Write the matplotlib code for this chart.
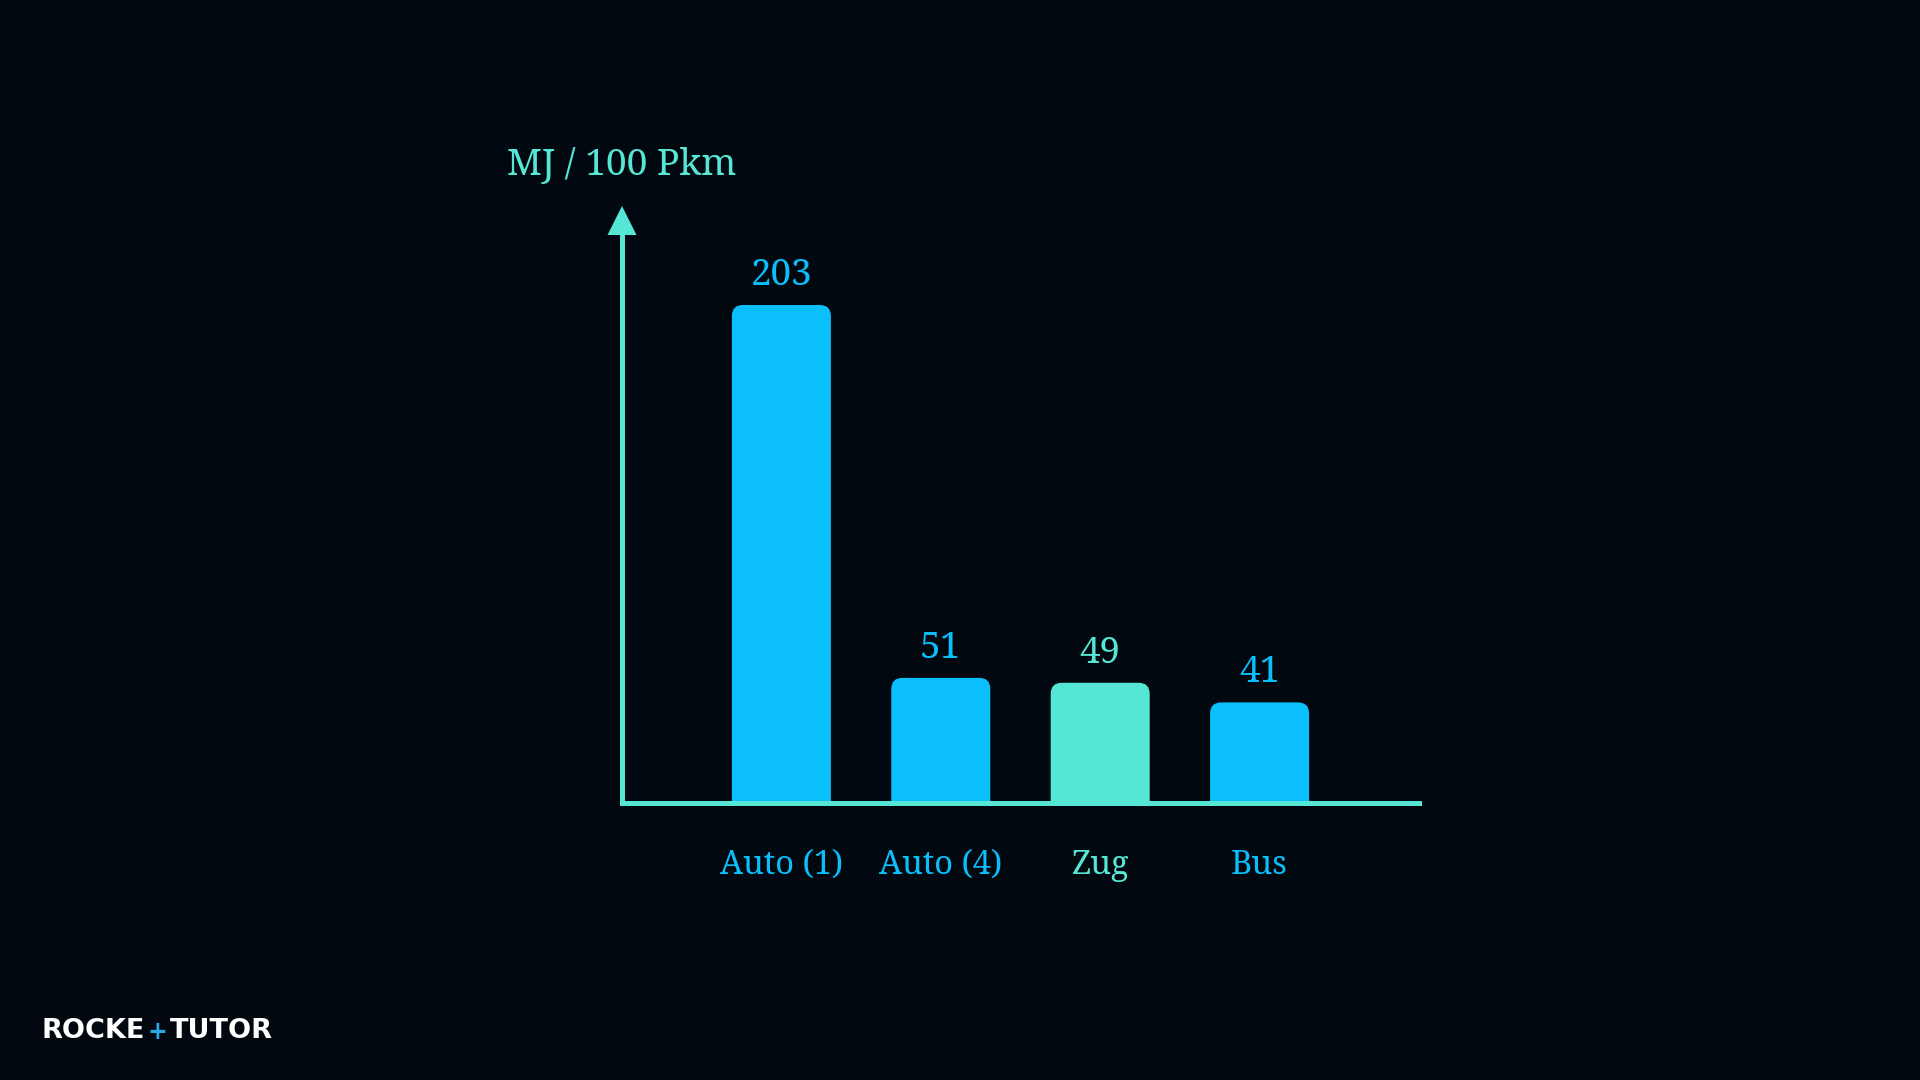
import matplotlib.pyplot as plt
from matplotlib.patches import FancyBboxPatch, Polygon

categories = ["Auto (1)", "Auto (4)", "Zug", "Bus"]
values = [203, 51, 49, 41]
highlight = [False, False, True, False]
y_label = "MJ / 100 Pkm"

bg = "#02080f"
blue = "#0bbffd"
teal = "#56e6d6"
serif = ["Noto Serif", "DejaVu Serif"]

W, H = 1920, 1080
fig = plt.figure(figsize=(19.2, 10.8), dpi=100, facecolor=bg)

# axes box in pixels (from top-left of image)
left_px, right_px = 622, 1419
base_px, top_px = 803, 206
ax = fig.add_axes([left_px / W, 1 - base_px / H,
                   (right_px - left_px) / W, (base_px - top_px) / H])
ax.set_facecolor(bg)

px_per_y = 498 / 203.0
ymax = (base_px - top_px) / px_per_y
ax.set_xlim(-1, 4)
ax.set_ylim(0, ymax)
px_per_x = (right_px - left_px) / 5.0

bar_w = 99 / px_per_x
r = 11 / px_per_x
aspect = px_per_x / px_per_y

for i, (v, hl) in enumerate(zip(values, highlight)):
    c = teal if hl else blue
    p = FancyBboxPatch((i - bar_w / 2, -3 * r * aspect), bar_w, v + 3 * r * aspect,
                       boxstyle=f"round,pad=0,rounding_size={r}",
                       mutation_aspect=aspect, fc=c, ec="none", zorder=2)
    ax.add_patch(p)
    ax.annotate(str(v), xy=(i, v), xytext=(0, 14.4), textcoords="offset points",
                ha="center", va="baseline", color=c, fontsize=26.5, family=serif)
    ax.annotate(categories[i], xy=(i, 0), xytext=(0, -51), textcoords="offset points",
                ha="center", va="baseline", color=c, fontsize=23.5, family=serif,
                annotation_clip=False)

# axis lines
arrow_base = (base_px - 235) / px_per_y
for s in ["top", "right"]:
    ax.spines[s].set_visible(False)
ax.spines["left"].set_color(teal)
ax.spines["bottom"].set_color(teal)
ax.spines["left"].set_linewidth(3.6)
ax.spines["bottom"].set_linewidth(3.6)
ax.spines["left"].set_bounds(0, arrow_base)
ax.spines["left"].set_zorder(3)
ax.spines["bottom"].set_zorder(3)
ax.set_xticks([])
ax.set_yticks([])

hw = 14.5 / px_per_x
tri = Polygon([(-1 - hw, arrow_base), (-1 + hw, arrow_base), (-1, ymax)],
              closed=True, fc=teal, ec="none", clip_on=False, zorder=3)
ax.add_patch(tri)

fig.text(left_px / W, 1 - 175 / H, y_label, ha="center", va="baseline",
         color=teal, fontsize=26.8, family=serif)

# logo
fig.text(41 / W, 1 - 1038 / H, "ROCKE", ha="left", va="baseline",
         color="white", fontsize=19.5, fontweight="bold", family="DejaVu Sans")
fig.text(157 / W, 1 - 1039 / H, "+", ha="center", va="baseline",
         color="#2aa8e8", fontsize=17, fontweight="bold", family="DejaVu Sans")
fig.text(170 / W, 1 - 1038 / H, "TUTOR", ha="left", va="baseline",
         color="white", fontsize=19.5, fontweight="bold", family="DejaVu Sans")

fig.savefig("out.png", dpi=100, facecolor=bg)
